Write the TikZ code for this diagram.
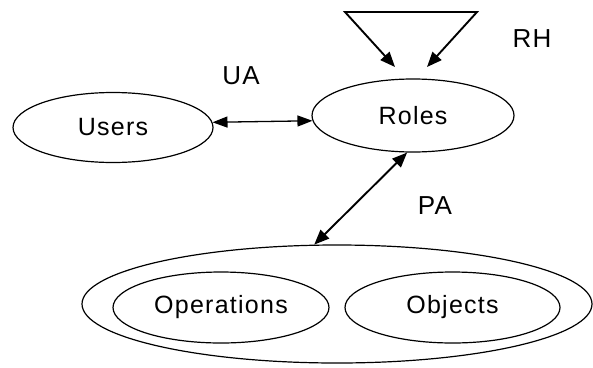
\documentclass[tikz,border=0pt]{standalone}
\usepackage{fontspec}
\setmainfont[LetterSpace=5]{Liberation Sans}
\usetikzlibrary{shapes.geometric,arrows.meta}
\begin{document}
\begin{tikzpicture}[x=1pt,y=-1pt,
  set/.style={ellipse,draw,line width=1.2pt,inner sep=0pt,
    font=\fontsize{25}{30}\selectfont},
  lbl/.style={font=\fontsize{26}{30}\selectfont,inner sep=0pt},
  link/.style={line width=1.9pt,
    {Triangle[length=15pt,width=12pt]}-{Triangle[length=15pt,width=12pt]}},
  thinlink/.style={line width=1.3pt,
    {Triangle[length=15pt,width=11pt]}-{Triangle[length=15pt,width=11pt]}}]
  \useasboundingbox (0,0) rectangle (593,367);

  % entity sets
  \node[set,minimum width=200pt,minimum height=70pt] (users) at (113,127.5) {Users};
  \node[set,minimum width=202pt,minimum height=73pt] (roles) at (413,115.5) {Roles};
  \node[set,minimum width=510pt,minimum height=118pt] (perm) at (337,304) {};
  \node[set,minimum width=216pt,minimum height=71pt] (ops) at (221,307.5) {Operations};
  \node[set,minimum width=215pt,minimum height=71pt] (objs) at (452.5,307.5) {Objects};

  % role hierarchy loop
  \coordinate (rhl) at (345,12);
  \coordinate (rhr) at (477,12);
  \coordinate (rhtipl) at (395,67);
  \coordinate (rhtipr) at (427,67);
  \draw[link] (rhtipl) -- (rhl) -- (rhr) -- (rhtipr);

  % assignments
  \draw[thinlink] (users.3.8) -- (roles.183.2);
  \draw[link] (roles.261.6) -- (perm.111);

  % relation labels
  \node[lbl] (ua) at (241,76) {UA};
  \node[lbl] (rh) at (532,39) {RH};
  \node[lbl] (pa) at (435,206) {PA};
\end{tikzpicture}
\end{document}
